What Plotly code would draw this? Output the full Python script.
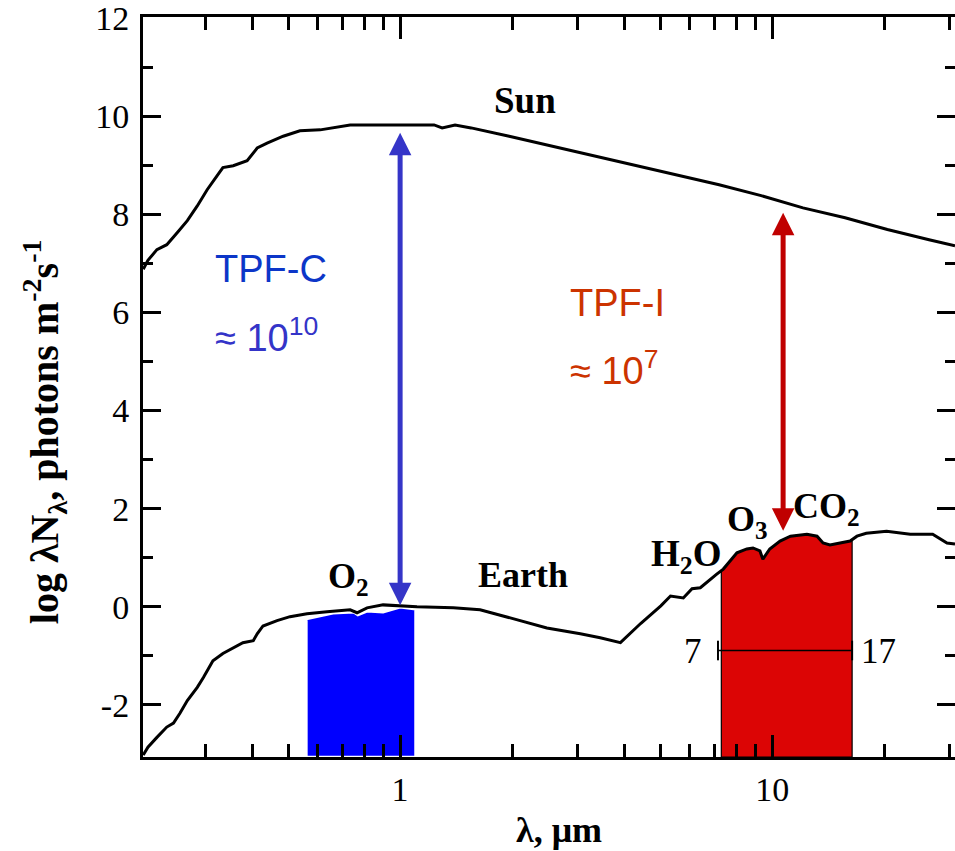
import numpy as np
import plotly.graph_objects as go

# ---------------- data ----------------
sun_lambda = [0.204, 0.210, 0.222, 0.236, 0.252, 0.268, 0.285, 0.303, 0.322, 0.334,
              0.356, 0.388, 0.413, 0.439, 0.485, 0.538, 0.610, 0.734, 1.234, 1.297,
              1.405, 1.552, 1.964, 2.547, 3.30, 4.28, 5.55, 7.20, 9.34, 12.1,
              15.7, 20.4, 26.4, 31.0]
sun_logN = [6.88, 7.06, 7.28, 7.38, 7.63, 7.87, 8.17, 8.50, 8.78, 8.95,
            8.99, 9.09, 9.35, 9.45, 9.59, 9.70, 9.72, 9.82, 9.82, 9.76,
            9.82, 9.76, 9.59, 9.39, 9.19, 8.99, 8.80, 8.60, 8.38, 8.13,
            7.93, 7.69, 7.48, 7.36]

earth_lambda = [0.204, 0.210, 0.222, 0.236, 0.246, 0.256, 0.268, 0.285, 0.296, 0.314,
                0.334, 0.356, 0.378, 0.403, 0.413, 0.428, 0.467, 0.506, 0.562, 0.636,
                0.734, 0.766, 0.815, 0.900, 1.0, 1.11, 1.39, 1.64, 2.01, 2.48,
                3.05, 3.45, 3.91, 4.43, 5.02, 5.33, 5.77, 6.09, 6.41, 6.73,
                7.11, 7.39, 7.71, 8.04, 8.55, 8.88, 9.27, 9.44, 9.85, 10.5,
                11.2, 12.4, 13.2, 13.7, 14.3, 15.2, 16.2, 16.9, 17.9, 20.3,
                23.5, 27.0, 29.5, 31.0]
earth_logN = [-3.02, -2.86, -2.66, -2.45, -2.37, -2.17, -1.91, -1.64, -1.44, -1.10,
              -0.95, -0.83, -0.73, -0.69, -0.55, -0.39, -0.28, -0.20, -0.14, -0.10,
              -0.06, -0.12, -0.02, 0.04, 0.02, 0.00, -0.02, -0.06, -0.24, -0.43,
              -0.55, -0.63, -0.73, -0.34, 0.02, 0.22, 0.18, 0.37, 0.39, 0.53,
              0.67, 0.77, 0.93, 1.10, 1.18, 1.20, 1.14, 0.97, 1.18, 1.34,
              1.44, 1.48, 1.44, 1.30, 1.26, 1.30, 1.34, 1.44, 1.50, 1.54,
              1.48, 1.48, 1.30, 1.28]

# TPF-C visible band (blue), top edge
blue_lambda = [0.56, 0.66, 0.75, 0.77, 0.815, 0.90, 1.00, 1.10]
blue_top = [-0.25, -0.13, -0.11, -0.17, -0.09, -0.11, -0.01, -0.05]

# TPF-I infrared band (red)
red_band = [7.3, 16.4]
bar_band = [7.15, 16.4]
bar_level = -0.89

# arrows: wavelength, lower tip, upper tip
arrow_lambda = [1.0, 10.7]
arrow_low = [0.0, 1.52]
arrow_high = [9.66, 8.03]
arrow_colors = ["#3535c8", "#c00000"]

x_ticks = [1, 10]
x_ticktext = ["1", "10"]
x_minor = [0.3, 0.4, 0.5, 0.6, 0.7, 0.8, 0.9, 2, 3, 4, 5, 6, 7, 8, 9, 20, 30]
y_ticks = [-2, 0, 2, 4, 6, 8, 10, 12]
y_ticktext = ["-2", "0", "2", "4", "6", "8", "10", "12"]
y_minor = [-1, 1, 3, 5, 7, 9, 11]

x_range = [0.2037, 31.0]
y_range = [-3.06, 12.02]

# ---------------- figure ----------------
SERIF = "Liberation Serif"
SANS = "Liberation Sans"

fig = go.Figure()

# blue band
bx = [blue_lambda[0]] + blue_lambda + [blue_lambda[-1], blue_lambda[0]]
by = [y_range[0]] + blue_top + [y_range[0], y_range[0]]
fig.add_trace(go.Scatter(x=bx, y=by, mode="lines", fill="toself",
                         fillcolor="#0000ff", line=dict(color="white", width=2.5),
                         showlegend=False, hoverinfo="skip"))

# red band: top follows the Earth curve
el = np.array(earth_lambda)
ey = np.array(earth_logN)
lo, hi = red_band
inside = (el > lo) & (el < hi)
ytop_lo = float(np.interp(np.log10(lo), np.log10(el), ey))
ytop_hi = float(np.interp(np.log10(hi), np.log10(el), ey))
rx = [lo, lo] + list(el[inside]) + [hi, hi, lo]
ry = [y_range[0], ytop_lo] + list(ey[inside]) + [ytop_hi, y_range[0], y_range[0]]
fig.add_trace(go.Scatter(x=rx, y=ry, mode="lines", fill="toself",
                         fillcolor="#dc0505", line=dict(color="black", width=1.2),
                         showlegend=False, hoverinfo="skip"))

# 7-17 bar
fig.add_trace(go.Scatter(x=bar_band, y=[bar_level, bar_level], mode="lines+markers",
                         line=dict(color="black", width=1.5),
                         marker=dict(symbol="line-ns", size=14, line=dict(color="black", width=2)),
                         showlegend=False, hoverinfo="skip"))

# curves
fig.add_trace(go.Scatter(x=sun_lambda, y=sun_logN, mode="lines", name="Sun",
                         line=dict(color="black", width=3), showlegend=False))
fig.add_trace(go.Scatter(x=earth_lambda, y=earth_logN, mode="lines", name="Earth",
                         line=dict(color="black", width=3), showlegend=False))

# right-hand y ticks (no line)
fig.add_trace(go.Scatter(x=[None], y=[None], yaxis="y2", showlegend=False, hoverinfo="skip"))

# arrows
for lam, ylo, yhi, col in zip(arrow_lambda, arrow_low, arrow_high, arrow_colors):
    lx = float(np.log10(lam))
    fig.add_annotation(x=lx, y=yhi, ax=lx, ay=ylo, xref="x", yref="y",
                       axref="x", ayref="y", text="", showarrow=True,
                       arrowhead=2, arrowsize=0.9, arrowwidth=5, arrowcolor=col,
                       arrowside="end+start", startarrowhead=2, startarrowsize=0.9,
                       standoff=0, startstandoff=0)

def lab(text, lam, y, size=36, bold=True, family=SERIF, color="black", xanchor="center",
        yanchor="middle"):
    t = "<b>" + text + "</b>" if bold else text
    fig.add_annotation(x=float(np.log10(lam)), y=y, xref="x", yref="y", text=t,
                       showarrow=False, xanchor=xanchor, yanchor=yanchor,
                       font=dict(family=family, size=size, color=color))

lab("Sun", 2.17, 10.32, size=37)
lab("Earth", 2.14, 0.65, size=36)
lab("O<sub>2</sub>", 0.725, 0.57, size=36)
lab("H<sub>2</sub>O", 5.87, 1.03, size=37)
lab("O<sub>3</sub>", 8.57, 1.74, size=36)
lab("CO<sub>2</sub>", 13.97, 2.0, size=36)
lab("7", 6.13, -0.91, size=35, bold=False)
lab("17", 19.27, -0.91, size=35, bold=False)

lab("TPF-C", 0.314, 6.88, size=38, bold=False, family=SANS, color="#0c36c8", xanchor="left")
lab("≈ 10<sup>10</sup>", 0.314, 5.54, size=38, bold=False, family=SANS, color="#3434c8", xanchor="left")
lab("TPF-I", 2.83, 6.19, size=38, bold=False, family=SANS, color="#cc3300", xanchor="left")
lab("≈ 10<sup>7</sup>", 2.83, 4.87, size=38, bold=False, family=SANS, color="#cc3300", xanchor="left")

# axis titles
fig.add_annotation(xref="paper", yref="paper", x=-0.121, y=0.44, textangle=-90,
                   text="<b>log λN<sub>λ</sub>, photons m<sup>-2</sup>s<sup>-1</sup></b>",
                   showarrow=False, xanchor="center", yanchor="middle",
                   font=dict(family=SERIF, size=40, color="black"))
fig.add_annotation(xref="paper", yref="paper", x=0.512, y=-0.098,
                   text="<b>λ, μm</b>", showarrow=False, xanchor="center", yanchor="middle",
                   font=dict(family=SERIF, size=36, color="black"))

fig.update_layout(
    width=955, height=851,
    margin=dict(l=143, r=0, t=14, b=94),
    paper_bgcolor="white", plot_bgcolor="white",
    showlegend=False,
    font=dict(family=SERIF, size=34, color="black"),
    xaxis=dict(type="log", range=[float(np.log10(x_range[0])), float(np.log10(x_range[1]))],
               tickmode="array", tickvals=x_ticks, ticktext=x_ticktext,
               ticks="inside", ticklen=22, tickwidth=2.5, tickcolor="black",
               minor=dict(tickmode="array", tickvals=x_minor, ticks="inside",
                          ticklen=13, tickwidth=2.5, tickcolor="black", showgrid=False),
               showline=True, linewidth=3, linecolor="black", mirror="ticks",
               showgrid=False, zeroline=False,
               tickfont=dict(family=SERIF, size=34, color="black")),
    yaxis=dict(range=y_range, tickmode="array", tickvals=y_ticks, ticktext=y_ticktext,
               ticks="inside", ticklen=18, tickwidth=2.5, tickcolor="black",
               minor=dict(tickmode="array", tickvals=y_minor, ticks="inside",
                          ticklen=10, tickwidth=2.5, tickcolor="black", showgrid=False),
               showline=True, linewidth=3, linecolor="black", mirror=False,
               showgrid=False, zeroline=False, ticklabelstandoff=4,
               ticklabeloverflow="allow",
               tickfont=dict(family=SERIF, size=34, color="black")),
    yaxis2=dict(overlaying="y", side="right", range=y_range, tickmode="array",
                tickvals=y_ticks, showticklabels=False,
                ticks="inside", ticklen=18, tickwidth=2.5, tickcolor="black",
                minor=dict(tickmode="array", tickvals=y_minor, ticks="inside",
                           ticklen=10, tickwidth=2.5, tickcolor="black", showgrid=False),
                showline=False, showgrid=False, zeroline=False),
)

fig.write_html("out.html")
